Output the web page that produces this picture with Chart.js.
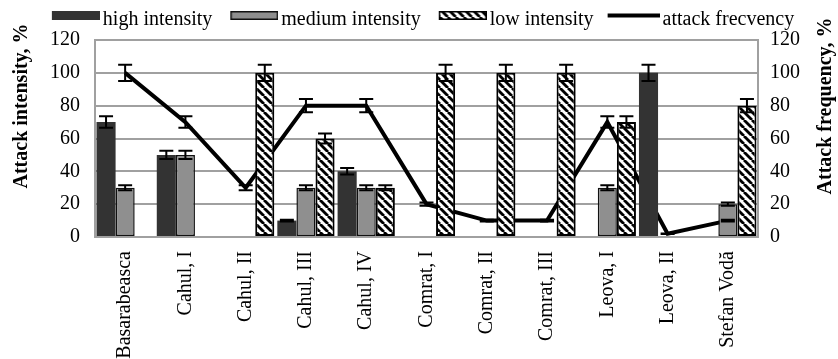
<!DOCTYPE html>
<html><head><meta charset="utf-8">
<script src="https://cdn.jsdelivr.net/npm/chart.js@4"></script>
<style>html,body{margin:0;padding:0;background:#fff;} canvas{display:block}</style>
</head><body>
<canvas id="c" width="838" height="359"></canvas>
<script>
const categories = ["Basarabeasca","Cahul, I","Cahul, II","Cahul, III","Cahul, IV","Comrat, I","Comrat, II","Comrat, III","Leova, I","Leova, II","Stefan Vodă"];
const highIntensity   = [70, 50, 0, 10, 40, 0, 0, 0, 0, 100, 0];
const mediumIntensity = [30, 50, 0, 30, 30, 0, 0, 0, 30, 0, 20];
const lowIntensity    = [0, 0, 100, 60, 30, 100, 100, 100, 70, 0, 80];
const attackFrequency = [100, 70, 30, 80, 80, 20, 10, 10, 70, 2, 10];
const yTicks = [0, 20, 40, 60, 80, 100, 120];
const errorFraction = 0.05;
const seriesNames = ["high intensity", "medium intensity", "low intensity", "attack frecvency"];
const axisTitles = ["Attack intensity, %", "Attack frequency, %"];

const FONT = '"Liberation Serif", "Times New Roman", serif';
const HIGH = '#333333', MED = '#8f8f8f', GRID = '#a0a0a0';

function makeHatchFor(g) {
  const c = document.createElement('canvas'); c.width = 8; c.height = 8;
  const t = c.getContext('2d');
  t.fillStyle = '#fff'; t.fillRect(0, 0, 8, 8);
  t.strokeStyle = '#000'; t.lineWidth = 2.8;
  for (const k of [-8, 0, 8]) { t.beginPath(); t.moveTo(k, 0); t.lineTo(k + 8, 8); t.stroke(); }
  return g.createPattern(c, 'repeat');
}
const hatch = makeHatchFor(document.createElement('canvas').getContext('2d'));

function icon(kind) {
  const c = document.createElement('canvas'); c.width = 63; c.height = 22;
  const g = c.getContext('2d');
  if (kind === 'line') { g.fillStyle = '#000'; g.fillRect(11, 4.5, 52, 4); return c; }
  const x = 15, y = 2, w = 48, h = 9;
  if (kind === 'high') { g.fillStyle = HIGH; g.fillRect(x, y, w, h); }
  if (kind === 'med') { g.fillStyle = MED; g.fillRect(x, y, w, h); g.strokeStyle = '#111'; g.lineWidth = 1.5; g.strokeRect(x + 0.75, y + 0.75, w - 1.5, h - 1.5); }
  if (kind === 'low') { g.fillStyle = makeHatchFor(g); g.fillRect(x, y, w, h); g.strokeStyle = '#000'; g.lineWidth = 1.5; g.strokeRect(x + 0.75, y + 0.75, w - 1.5, h - 1.5); }
  return c;
}
const legendIcons = [icon('high'), icon('med'), icon('low'), icon('line')];

const errorBars = {
  id: 'errorBars',
  afterDatasetsDraw(chart) {
    const ctx = chart.ctx;
    ctx.save(); ctx.strokeStyle = '#000'; ctx.lineWidth = 2;
    chart.data.datasets.forEach((ds, i) => {
      const meta = chart.getDatasetMeta(i);
      const scale = chart.scales[meta.yAxisID];
      ds.data.forEach((v, j) => {
        if (!v) return;
        const x = meta.data[j].x;
        const e = v * errorFraction;
        const yT = scale.getPixelForValue(v + e), yB = scale.getPixelForValue(v - e);
        ctx.beginPath();
        ctx.moveTo(x, yT); ctx.lineTo(x, yB);
        ctx.moveTo(x - 7, yT); ctx.lineTo(x + 7, yT);
        ctx.moveTo(x - 7, yB); ctx.lineTo(x + 7, yB);
        ctx.stroke();
      });
    });
    ctx.restore();
  }
};

const titlesPlugin = {
  id: 'axisTitles',
  afterDraw(chart) {
    const ctx = chart.ctx;
    ctx.save();
    ctx.font = 'bold 20px ' + FONT; ctx.fillStyle = '#000';
    ctx.textAlign = 'center'; ctx.textBaseline = 'middle';
    [[22, axisTitles[0]], [826, axisTitles[1]]].forEach(([x, t]) => {
      ctx.save(); ctx.translate(x, 106); ctx.rotate(-Math.PI / 2); ctx.fillText(t, 0, 0); ctx.restore();
    });
    ctx.restore();
  }
};

const tickFont = { family: FONT, size: 20 };
const setTicks = s => { s.ticks = yTicks.map(v => ({ value: v })); };

new Chart(document.getElementById('c'), {
  type: 'bar',
  data: {
    labels: categories,
    datasets: [
      { label: seriesNames[0], data: highIntensity, backgroundColor: HIGH, borderWidth: 0, yAxisID: 'y', order: 1 },
      { label: seriesNames[1], data: mediumIntensity, backgroundColor: MED, borderColor: '#111', borderWidth: 1.5, borderSkipped: false, yAxisID: 'y', order: 1 },
      { label: seriesNames[2], data: lowIntensity, backgroundColor: hatch, borderColor: '#000', borderWidth: 2, borderSkipped: false, yAxisID: 'y', order: 1 },
      { type: 'line', label: seriesNames[3], data: attackFrequency, borderColor: '#000', borderWidth: 4, pointRadius: 0, tension: 0, fill: false, yAxisID: 'y2', order: 2 }
    ]
  },
  options: {
    responsive: false,
    animation: false,
    devicePixelRatio: 1,
    categoryPercentage: 0.95,
    barPercentage: 1.0,
    layout: { padding: 0 },
    plugins: {
      tooltip: { enabled: false },
      legend: {
        position: 'top',
        labels: {
          usePointStyle: true,
          pointStyleWidth: 49,
          padding: 10,
          color: '#000',
          font: { family: FONT, size: 20 },
          generateLabels() {
            return seriesNames.map((n, i) => ({ text: n, pointStyle: legendIcons[i], datasetIndex: i, hidden: false,
              fillStyle: 'rgba(0,0,0,0)', strokeStyle: 'rgba(0,0,0,0)', lineWidth: 0, fontColor: '#000' }));
          }
        }
      }
    },
    scales: {
      x: {
        grid: { display: false },
        border: { display: true, color: GRID, width: 2 },
        ticks: { font: tickFont, color: '#000', maxRotation: 90, minRotation: 90, padding: 6, autoSkip: false },
        afterFit(s) { s.height = 122; }
      },
      y: {
        position: 'left', min: 0, max: 120,
        afterBuildTicks: setTicks,
        ticks: { font: tickFont, color: '#000', padding: 15 },
        grid: { color: GRID, lineWidth: 2, drawTicks: false },
        border: { display: true, color: GRID, width: 2 },
        afterFit(s) { s.width = 95; }
      },
      y2: {
        position: 'right', min: 0, max: 120,
        afterBuildTicks: setTicks,
        ticks: { font: tickFont, color: '#000', padding: 12 },
        grid: { display: false, drawTicks: false },
        border: { display: true, color: GRID, width: 2 },
        afterFit(s) { s.width = 80; }
      }
    }
  },
  plugins: [errorBars, titlesPlugin]
});
</script>
</body></html>
